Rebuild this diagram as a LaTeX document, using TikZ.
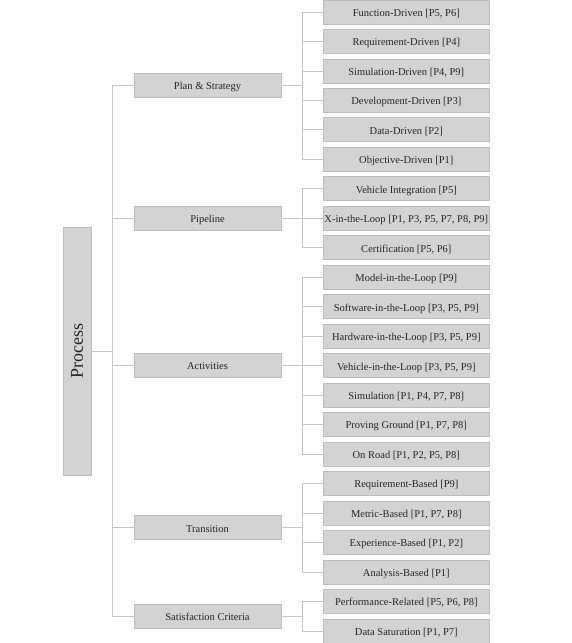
\documentclass[tikz,border=0pt]{standalone}
\usepackage{fontspec}
\setmainfont{Liberation Serif}
\usepackage{xcolor}
\usetikzlibrary{positioning}
\definecolor{boxfill}{HTML}{D3D3D3}
\definecolor{boxline}{HTML}{BDBDBD}
\definecolor{wire}{HTML}{C4C4C4}

\begin{document}
\begin{tikzpicture}[x=1pt, y=-1pt,
        leaf/.style={draw=boxline, fill=boxfill, line width=0.9pt, minimum width=166pt, minimum height=24pt, inner sep=0pt, text height=8.4pt, text depth=0pt, font=\fontsize{10.5}{12}\selectfont, text=black!85},
        cat/.style={draw=boxline, fill=boxfill, line width=0.9pt, minimum width=147pt, minimum height=24pt, inner sep=0pt, text height=8.4pt, text depth=0pt, font=\fontsize{10.5}{12}\selectfont, text=black!85},
        root/.style={draw=boxline, fill=boxfill, line width=0.9pt, minimum width=248pt, minimum height=28pt, inner sep=0pt, rotate=90, font=\fontsize{18}{20}\selectfont, text=black!85},
        wires/.style={draw=wire, line width=0.9pt}]
        \useasboundingbox (0,0) rectangle (571,643);

        % root
        \node[root] (proc) at (77,351) {Process};

        % first level
        \node[cat] (plan) at (207.5,85.5)  {Plan \& Strategy};
        \node[cat] (pipe) at (207.5,218.2) {Pipeline};
        \node[cat] (act)  at (207.5,365.6) {Activities};
        \node[cat] (trans) at (207.5,527.9) {Transition};
        \node[cat] (sat)  at (207.5,616.3) {Satisfaction Criteria};

        % plan & strategy
        \node[leaf] (fd) at (406.3,12)    {Function-Driven [P5, P6]};
        \node[leaf] (rd) at (406.3,41.5)  {Requirement-Driven [P4]};
        \node[leaf] (sd) at (406.3,71)    {Simulation-Driven [P4, P9]};
        \node[leaf] (dd) at (406.3,100.4) {Development-Driven [P3]};
        \node[leaf] (da) at (406.3,129.9) {Data-Driven [P2]};
        \node[leaf] (od) at (406.3,159.4) {Objective-Driven [P1]};

        % pipeline
        \node[leaf] (vi) at (406.3,188.9) {Vehicle Integration [P5]};
        \node[leaf] (xil) at (406.3,218.4) {X-in-the-Loop [P1, P3, P5, P7, P8, P9]};
        \node[leaf] (cert) at (406.3,247.8) {Certification [P5, P6]};

        % activities
        \node[leaf] (mil) at (406.3,277.3) {Model-in-the-Loop [P9]};
        \node[leaf] (sil) at (406.3,306.8) {Software-in-the-Loop [P3, P5, P9]};
        \node[leaf] (hil) at (406.3,336.3) {Hardware-in-the-Loop [P3, P5, P9]};
        \node[leaf] (vil) at (406.3,365.8) {Vehicle-in-the-Loop [P3, P5, P9]};
        \node[leaf] (sim) at (406.3,395.2) {Simulation [P1, P4, P7, P8]};
        \node[leaf] (pg)  at (406.3,424.7) {Proving Ground [P1, P7, P8]};
        \node[leaf] (or)  at (406.3,454.2) {On Road [P1, P2, P5, P8]};

        % transition
        \node[leaf] (rb) at (406.3,483.7) {Requirement-Based [P9]};
        \node[leaf] (mb) at (406.3,513.2) {Metric-Based [P1, P7, P8]};
        \node[leaf] (eb) at (406.3,542.6) {Experience-Based [P1, P2]};
        \node[leaf] (ab) at (406.3,572.1) {Analysis-Based [P1]};

        % satisfaction criteria
        \node[leaf] (pr) at (406.3,601.6) {Performance-Related [P5, P6, P8]};
        \node[leaf] (ds) at (406.3,631.1) {Data Saturation [P1, P7]};

        % trunk
        \coordinate (t0) at (112.7,351);
        \draw[wires] (proc.south) -- (t0);
        \draw[wires] (t0) |- (plan.west);
        \draw[wires] (t0) |- (pipe.west);
        \draw[wires] (t0) |- (act.west);
        \draw[wires] (t0) |- (trans.west);
        \draw[wires] (t0) |- (sat.west);

        % branches
        \coordinate (j1) at (302.3,85.5);
        \coordinate (j2) at (302.3,218.2);
        \coordinate (j3) at (302.3,365.6);
        \coordinate (j4) at (302.3,527.9);
        \coordinate (j5) at (302.3,616.3);
        \draw[wires] (plan.east) -- (j1);
        \draw[wires] (pipe.east) -- (j2);
        \draw[wires] (act.east) -- (j3);
        \draw[wires] (trans.east) -- (j4);
        \draw[wires] (sat.east) -- (j5);

        \foreach \n in {fd,rd,sd,dd,da,od} \draw[wires] (j1) |- (\n.west);
        \foreach \n in {vi,xil,cert} \draw[wires] (j2) |- (\n.west);
        \foreach \n in {mil,sil,hil,vil,sim,pg,or} \draw[wires] (j3) |- (\n.west);
        \foreach \n in {rb,mb,eb,ab} \draw[wires] (j4) |- (\n.west);
        \foreach \n in {pr,ds} \draw[wires] (j5) |- (\n.west);
    \end{tikzpicture}
\end{document}
